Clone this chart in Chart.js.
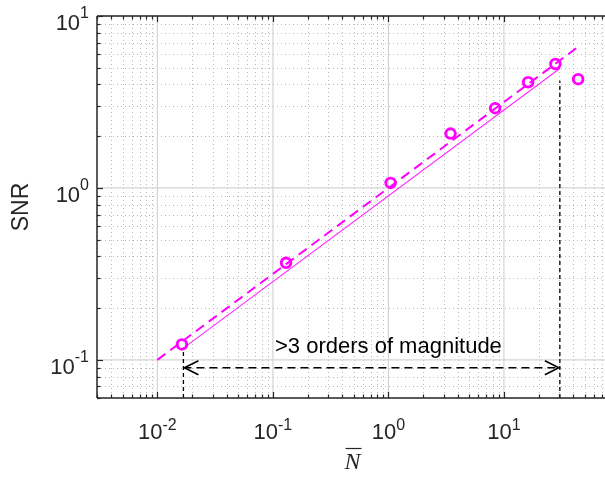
<!DOCTYPE html>
<html>
<head>
<meta charset="utf-8">
<script src="https://cdn.jsdelivr.net/npm/chart.js@4.4.1/dist/chart.umd.min.js"></script>
<style>
  html, body { margin: 0; padding: 0; background: #fff; overflow: hidden; }
  #wrap { width: 605px; height: 478px; }
</style>
</head>
<body>
<div id="wrap"><canvas id="snrChart" width="605" height="478"></canvas></div>
<script>
// measured SNR against mean count
var nBar = [0.0163, 0.13, 1.045, 3.45, 8.4, 16.2, 27.9, 43.9];
var snr = [0.123, 0.367, 1.07, 2.07, 2.91, 4.12, 5.26, 4.29];

// dashed reference line and solid fit, end points only
var refN = [0.01, 45];
var refSNR = [0.1, 6.7];
var fitN = [0.0168, 30.5];
var fitSNR = [0.117, 4.95];

// dynamic range marker
var spanN = [0.0168, 30.5];
var spanTop = [0.118, 4.2];
var spanY = 0.09;
var spanLabel = '>3 orders of magnitude';
var spanLabelX = 1;
var spanLabelY = 0.11;

// axes
var xMin = 0.003, xMax = 75;
var yMin = 0.06, yMax = 10;
var xMajor = [0.01, 0.1, 1, 10];
var xExp = ['-2', '-1', '0', '1'];
var yMajor = [0.1, 1, 10];
var yExp = ['-1', '0', '1'];

var axisColor = '#262626';

function toXY(xs, ys) {
  return xs.map(function(x, i) { return { x: x, y: ys[i] }; });
}

// tick values 1..9 x 10^n inside [lo, hi], majors at the decades
function logTicks(lo, hi) {
  var ticks = [];
  for (var e = Math.floor(Math.log10(lo)); e <= Math.ceil(Math.log10(hi)); e++) {
    for (var k = 1; k <= 9; k++) {
      var v = k * Math.pow(10, e);
      if (v >= lo * 0.999 && v <= hi * 1.001) ticks.push({ value: v, major: k === 1 });
    }
  }
  return ticks;
}
var xTicks = logTicks(xMin, xMax);
var yTicks = logTicks(yMin, yMax);

function seg(ctx, x1, y1, x2, y2) {
  ctx.beginPath();
  ctx.moveTo(x1, y1);
  ctx.lineTo(x2, y2);
  ctx.stroke();
}

var matlabLook = {
  id: 'matlabLook',
  beforeDatasetsDraw: function(chart) {
    var ctx = chart.ctx, a = chart.chartArea;
    var xs = chart.scales.x, ys = chart.scales.y;
    ctx.save();
    ctx.lineWidth = 1;
    // minor grid, dotted
    ctx.strokeStyle = '#b9b9b9';
    ctx.setLineDash([1, 3]);
    xTicks.forEach(function(t) {
      if (t.major) return;
      var px = Math.round(xs.getPixelForValue(t.value)) + 0.5;
      seg(ctx, px, a.top, px, a.bottom);
    });
    yTicks.forEach(function(t) {
      if (t.major) return;
      var py = Math.round(ys.getPixelForValue(t.value)) + 0.5;
      seg(ctx, a.left, py, a.right, py);
    });
    // major grid, solid
    ctx.setLineDash([]);
    ctx.strokeStyle = '#d4d4d4';
    ctx.lineWidth = 1.2;
    xMajor.forEach(function(v) {
      var px = xs.getPixelForValue(v);
      seg(ctx, px, a.top, px, a.bottom);
    });
    yMajor.forEach(function(v) {
      var py = ys.getPixelForValue(v);
      seg(ctx, a.left, py, a.right, py);
    });
    ctx.restore();
  },
  afterDatasetsDraw: function(chart) {
    var ctx = chart.ctx;
    var xs = chart.scales.x, ys = chart.scales.y;
    var py = ys.getPixelForValue(spanY);
    var pl = xs.getPixelForValue(spanN[0]) + 1;
    var pr = xs.getPixelForValue(spanN[1]) - 1;
    ctx.save();
    // open arrow heads
    ctx.strokeStyle = '#000';
    ctx.lineWidth = 1.6;
    ctx.beginPath();
    ctx.moveTo(pl + 14, py - 7);
    ctx.lineTo(pl, py);
    ctx.lineTo(pl + 14, py + 7);
    ctx.moveTo(pr - 14, py - 7);
    ctx.lineTo(pr, py);
    ctx.lineTo(pr - 14, py + 7);
    ctx.stroke();
    // annotation
    ctx.fillStyle = '#000';
    ctx.font = '22px "Liberation Sans", Arial, sans-serif';
    ctx.textAlign = 'center';
    ctx.textBaseline = 'alphabetic';
    ctx.fillText(spanLabel, xs.getPixelForValue(spanLabelX), ys.getPixelForValue(spanLabelY));
    ctx.restore();
  },
  afterDraw: function(chart) {
    var ctx = chart.ctx, a = chart.chartArea;
    var xs = chart.scales.x, ys = chart.scales.y;
    ctx.save();
    // box
    ctx.strokeStyle = axisColor;
    ctx.lineWidth = 1.5;
    seg(ctx, a.left, a.top, a.right, a.top);
    seg(ctx, a.left, a.top, a.left, a.bottom);
    seg(ctx, a.left, a.bottom, a.right, a.bottom);
    // inward ticks
    ctx.lineWidth = 1.2;
    xTicks.forEach(function(t) {
      var px = Math.round(xs.getPixelForValue(t.value)) + 0.5;
      var len = t.major ? 6 : 3.5;
      seg(ctx, px, a.bottom, px, a.bottom - len);
      seg(ctx, px, a.top, px, a.top + len);
    });
    yTicks.forEach(function(t) {
      var py = Math.round(ys.getPixelForValue(t.value)) + 0.5;
      var len = t.major ? 6 : 3.5;
      seg(ctx, a.left, py, a.left + len, py);
    });
    // tick labels 10^n
    var bigFont = '22px "Liberation Sans", Arial, sans-serif';
    var supFont = '16px "Liberation Sans", Arial, sans-serif';
    ctx.fillStyle = axisColor;
    ctx.textBaseline = 'alphabetic';
    ctx.textAlign = 'left';
    xMajor.forEach(function(v, i) {
      var px = xs.getPixelForValue(v);
      ctx.font = bigFont;
      var w10 = ctx.measureText('10').width;
      ctx.font = supFont;
      var we = ctx.measureText(xExp[i]).width;
      var x0 = px - (w10 + we) / 2;
      ctx.font = bigFont;
      ctx.fillText('10', x0, a.bottom + 40.5);
      ctx.font = supFont;
      ctx.fillText(xExp[i], x0 + w10, a.bottom + 31.5);
    });
    yMajor.forEach(function(v, i) {
      var py = ys.getPixelForValue(v);
      ctx.font = bigFont;
      var w10 = ctx.measureText('10').width;
      ctx.font = supFont;
      var we = ctx.measureText(yExp[i]).width;
      var x0 = a.left - 8 - we - w10;
      ctx.font = bigFont;
      ctx.fillText('10', x0, py + 14);
      ctx.font = supFont;
      ctx.fillText(yExp[i], x0 + w10, py + 2);
    });
    // y title
    ctx.save();
    ctx.translate(28, (a.top + a.bottom) / 2);
    ctx.rotate(-Math.PI / 2);
    ctx.textAlign = 'center';
    ctx.font = '23px "Liberation Sans", Arial, sans-serif';
    ctx.fillText('SNR', 0, 0);
    ctx.restore();
    // x title, N with overline
    var cx = a.left + 255.5;
    ctx.font = 'italic 24px "Liberation Serif", "Times New Roman", serif';
    ctx.textAlign = 'center';
    ctx.fillText('N', cx, 469);
    var wn = ctx.measureText('N').width;
    ctx.lineWidth = 1.2;
    ctx.strokeStyle = axisColor;
    seg(ctx, cx - wn / 2 + 1, 448.5, cx + wn / 2 + 1, 448.5);
    ctx.restore();
  }
};

var ctx = document.getElementById('snrChart').getContext('2d');
var snrChart = new Chart(ctx, {
  type: 'scatter',
  data: {
    datasets: [
      {
        label: 'SNR',
        data: toXY(nBar, snr),
        showLine: false,
        pointStyle: 'circle',
        pointRadius: 4.8,
        pointBorderWidth: 2.9,
        pointBorderColor: '#ff00ff',
        pointBackgroundColor: 'rgba(0,0,0,0)'
      },
      {
        label: 'reference',
        data: toXY(refN, refSNR),
        showLine: true,
        borderColor: '#ff00ff',
        borderWidth: 2,
        borderDash: [10, 6],
        pointRadius: 0
      },
      {
        label: 'fit',
        data: toXY(fitN, fitSNR),
        showLine: true,
        borderColor: '#ff2cff',
        borderWidth: 1.2,
        pointRadius: 0
      },
      {
        label: 'low end',
        data: [{ x: spanN[0], y: yMin }, { x: spanN[0], y: spanTop[0] }],
        showLine: true,
        borderColor: '#000',
        borderWidth: 1.3,
        borderDash: [4, 3],
        pointRadius: 0
      },
      {
        label: 'high end',
        data: [{ x: spanN[1], y: yMin }, { x: spanN[1], y: spanTop[1] }],
        showLine: true,
        borderColor: '#000',
        borderWidth: 1.3,
        borderDash: [4, 3],
        pointRadius: 0
      },
      {
        label: 'span',
        data: [{ x: spanN[0], y: spanY }, { x: spanN[1], y: spanY }],
        showLine: true,
        borderColor: '#000',
        borderWidth: 1.6,
        borderDash: [8, 5],
        pointRadius: 0
      }
    ]
  },
  options: {
    responsive: false,
    animation: false,
    events: [],
    layout: { autoPadding: false, padding: { left: 97, top: 16, right: 0, bottom: 80 } },
    plugins: {
      legend: { display: false },
      tooltip: { enabled: false }
    },
    scales: {
      x: { display: false, type: 'logarithmic', min: xMin, max: xMax },
      y: { display: false, type: 'logarithmic', min: yMin, max: yMax }
    }
  },
  plugins: [matlabLook]
});
</script>
</body>
</html>
